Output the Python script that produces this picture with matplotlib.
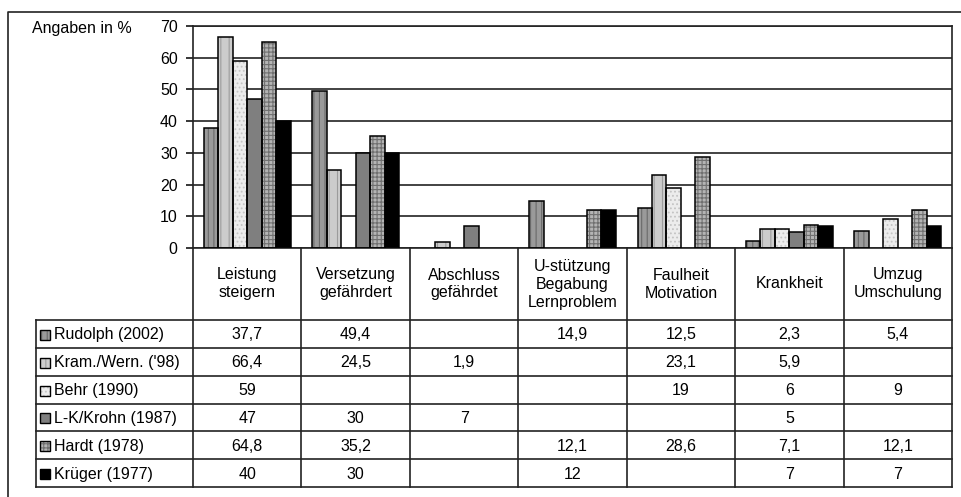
import matplotlib.pyplot as plt
from matplotlib.patches import Rectangle

categories = ["Leistung\nsteigern", "Versetzung\ngefährdert", "Abschluss\ngefährdet",
              "U-stützung\nBegabung\nLernproblem", "Faulheit\nMotivation", "Krankheit",
              "Umzug\nUmschulung"]
series = ["Rudolph (2002)", "Kram./Wern. ('98)", "Behr (1990)",
          "L-K/Krohn (1987)", "Hardt (1978)", "Krüger (1977)"]

rudolph = [37.7, 49.4, None, 14.9, 12.5, 2.3, 5.4]
kram_wern = [66.4, 24.5, 1.9, None, 23.1, 5.9, None]
behr = [59, None, None, None, 19, 6, 9]
lk_krohn = [47, 30, 7, None, None, 5, None]
hardt = [64.8, 35.2, None, 12.1, 28.6, 7.1, 12.1]
krueger = [40, 30, None, 12, None, 7, 7]
values = [rudolph, kram_wern, behr, lk_krohn, hardt, krueger]

y_ticks = [0, 10, 20, 30, 40, 50, 60, 70]

# fill colour, hatch pattern and hatch colour per series
faces = ["#9a9a9a", "#cccccc", "#ececec", "#7f7f7f", "#b4b4b4", "#000000"]
hatches = ["|||", "||", "....", "", "++++", ""]
hatch_colors = ["#6a6a6a", "#9c9c9c", "#c4c4c4", "#7f7f7f", "#707070", "#000000"]


def fmt(v):
    if v is None:
        return ""
    if float(v).is_integer():
        return str(int(v))
    return f"{v:.1f}".replace(".", ",")


plt.rcParams['font.family'] = ['Liberation Sans', 'DejaVu Sans']
plt.rcParams['hatch.linewidth'] = 0.8
FS = 11.5

W, H = 962, 497
fig = plt.figure(figsize=(W / 100, H / 100), dpi=100)


def fx(px):
    return px / W


def fy(py):
    return 1 - py / H


# pixel layout of the Excel-like frame
x_left, x_right = 193, 952
y_zero, y_top = 248, 26
y_head = 320
y_bottom = 487
x_label = 36
n_cat = len(categories)
cw = (x_right - x_left) / n_cat
rh = (y_bottom - y_head) / len(series)

ax = fig.add_axes([fx(x_left), fy(y_zero), fx(x_right) - fx(x_left), fy(y_top) - fy(y_zero)])
bw = 0.8 / len(series)
for i, vals in enumerate(values):
    xs = [j + (i - 2.5) * bw for j, v in enumerate(vals) if v is not None]
    hs = [v for v in vals if v is not None]
    ax.bar(xs, hs, bw, color=faces[i], hatch=hatches[i], edgecolor=hatch_colors[i],
           linewidth=0, zorder=2)
    ax.bar(xs, hs, bw, fill=False, edgecolor="black", linewidth=1.1, zorder=3)

ax.set_xlim(-0.5, n_cat - 0.5)
ax.set_ylim(0, 70)
ax.set_yticks(y_ticks)
ax.set_xticks([])
ax.yaxis.grid(True, color="#222222", linewidth=1.2)
ax.set_axisbelow(True)
ax.tick_params(axis="y", direction="out", length=5, width=1.1, pad=6, labelsize=FS)
for s in ax.spines.values():
    s.set_color("#222222")
    s.set_linewidth(1.2)

# overlay in pixel coordinates for the data table and frame
tab = fig.add_axes([0, 0, 1, 1])
tab.set_xlim(0, W)
tab.set_ylim(H, 0)
tab.axis("off")

line_kw = dict(color="#222222", linewidth=1.2)
tab.plot([8, 8, W + 5], [H + 5, 12, 12], **line_kw)
tab.text(32, 29, "Angaben in %", fontsize=FS, va="center", ha="left")

for k in range(n_cat + 1):
    x = x_left + k * cw
    tab.plot([x, x], [y_zero, y_bottom], **line_kw)
for r in range(len(series) + 1):
    y = y_head + r * rh
    tab.plot([x_label, x_right], [y, y], **line_kw)
tab.plot([x_label, x_label], [y_head, y_bottom], **line_kw)

for k, cat in enumerate(categories):
    tab.text(x_left + (k + 0.5) * cw, (y_zero + y_head) / 2, cat, fontsize=FS,
             ha="center", va="center", linespacing=1.25)

for r, name in enumerate(series):
    yc = y_head + (r + 0.5) * rh
    tab.add_patch(Rectangle((40, yc - 4), 10, 10, facecolor=faces[r], hatch=hatches[r],
                            edgecolor=hatch_colors[r], linewidth=0))
    tab.add_patch(Rectangle((40, yc - 4), 10, 10, fill=False, edgecolor="black", linewidth=1))
    tab.text(54, yc + 1, name, fontsize=FS, ha="left", va="center")
    for k, v in enumerate(values[r]):
        tab.text(x_left + (k + 0.5) * cw, yc + 1, fmt(v), fontsize=FS, ha="center", va="center")

fig.savefig("out.png", dpi=100)
